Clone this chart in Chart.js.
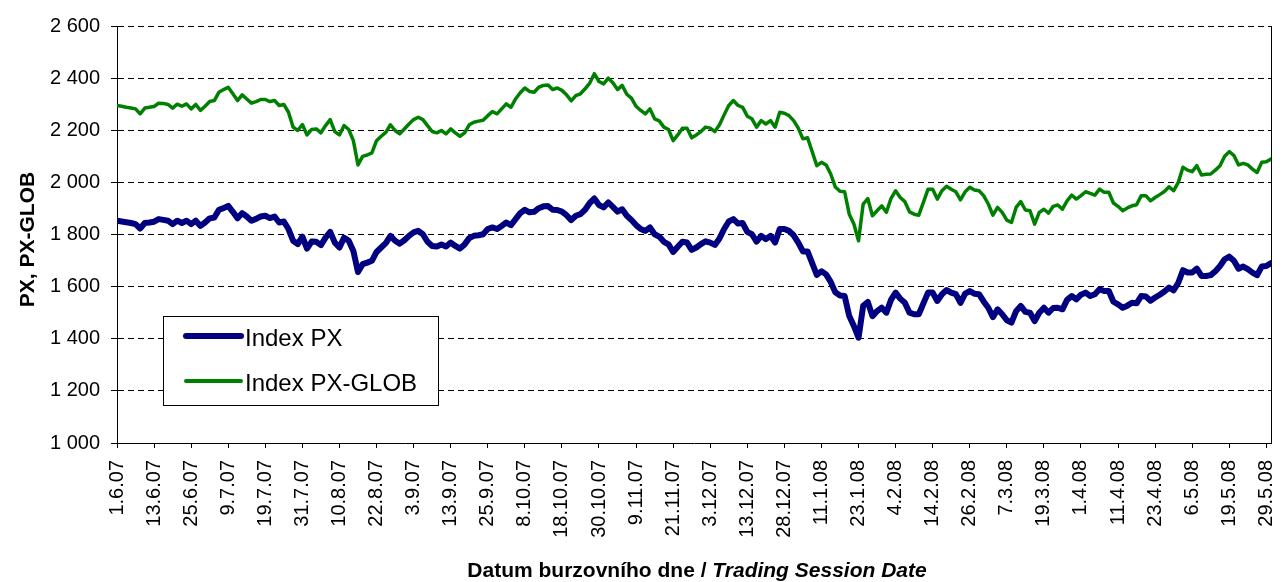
<!DOCTYPE html>
<html>
<head>
<meta charset="utf-8">
<title>Index PX, PX-GLOB</title>
<script src="https://cdn.jsdelivr.net/npm/chart.js@4.4.1/dist/chart.umd.min.js"></script>
<style>
  html, body { margin: 0; padding: 0; background: #fff; }
  #wrap { width: 1284px; height: 582px; }
</style>
</head>
<body>
<div id="wrap"><canvas id="chart" width="1284" height="582"></canvas></div>
<script>
// Tick labels on the date axis (one every 8 trading days)
const tickLabels = ['1.6.07', '13.6.07', '25.6.07', '9.7.07', '19.7.07', '31.7.07', '10.8.07', '22.8.07',
    '3.9.07', '13.9.07', '25.9.07', '8.10.07', '18.10.07', '30.10.07', '9.11.07', '21.11.07',
    '3.12.07', '13.12.07', '28.12.07', '11.1.08', '23.1.08', '4.2.08', '14.2.08', '26.2.08',
    '7.3.08', '19.3.08', '1.4.08', '11.4.08', '23.4.08', '6.5.08', '19.5.08', '29.5.08'];
const TICK_EVERY = 8;

// Series names
const seriesNames = ['Index PX', 'Index PX-GLOB'];

// Index PX, daily close
const pxValues = [
    1853, 1850, 1847, 1844, 1840, 1823, 1844, 1846, 1849, 1859, 1856, 1853, 1840, 1853, 1844, 1853,
    1840, 1853, 1833, 1846, 1862, 1865, 1895, 1901, 1910, 1887, 1862, 1882, 1869, 1853, 1860,
    1869, 1872, 1863, 1869, 1846, 1850, 1821, 1776, 1763, 1792, 1746, 1773, 1772, 1759, 1788, 1810,
    1769, 1750, 1788, 1776, 1737, 1656, 1686, 1692, 1699, 1733, 1750, 1767, 1795, 1776, 1765,
    1778, 1795, 1808, 1814, 1801, 1772, 1756, 1754, 1762, 1754, 1769, 1756, 1746, 1762, 1786, 1795,
    1797, 1801, 1821, 1827, 1821, 1833, 1846, 1836, 1859, 1882, 1895, 1885, 1887, 1901, 1908, 1909,
    1895, 1894, 1888, 1874, 1855, 1872, 1878, 1895, 1921, 1938, 1913, 1904, 1923, 1906, 1888, 1897,
    1872, 1856, 1836, 1821, 1814, 1827, 1801, 1792, 1772, 1762, 1733, 1753, 1772, 1769, 1741,
    1750, 1763, 1774, 1769, 1760, 1785, 1821, 1850, 1859, 1842, 1844, 1810, 1801, 1773, 1795, 1782,
    1795, 1769, 1821, 1821, 1814, 1797, 1769, 1735, 1735, 1690, 1645, 1659, 1647, 1618, 1578, 1566,
    1564, 1487, 1449, 1404, 1526, 1541, 1487, 1506, 1519, 1500, 1549, 1577, 1554, 1538, 1500, 1494,
    1494, 1536, 1577, 1577, 1545, 1571, 1587, 1577, 1571, 1538, 1573, 1583, 1573, 1571, 1543,
    1519, 1483, 1513, 1494, 1471, 1462, 1506, 1526, 1503, 1500, 1468, 1500, 1519, 1500, 1518, 1519,
    1513, 1549, 1564, 1551, 1569, 1577, 1564, 1571, 1590, 1583, 1583, 1542, 1532, 1519, 1527,
    1538, 1536, 1564, 1562, 1546, 1558, 1569, 1581, 1596, 1586, 1615, 1663, 1654, 1654, 1669, 1641,
    1641, 1644, 1659, 1679, 1705, 1715, 1699, 1669, 1677, 1667, 1654, 1644, 1677, 1679, 1690
];

// Index PX-GLOB, daily close
const pxGlobValues = [
    2295, 2292, 2288, 2285, 2282, 2263, 2285, 2288, 2291, 2304, 2303, 2299, 2285, 2300, 2292, 2301,
    2282, 2299, 2276, 2292, 2310, 2314, 2346, 2356, 2365, 2340, 2314, 2336, 2320, 2304, 2310,
    2318, 2318, 2310, 2314, 2295, 2299, 2269, 2212, 2199, 2222, 2182, 2203, 2205, 2190, 2218, 2241,
    2195, 2182, 2218, 2203, 2160, 2067, 2100, 2105, 2113, 2160, 2177, 2192, 2221, 2199, 2186,
    2205, 2224, 2241, 2250, 2241, 2218, 2195, 2190, 2199, 2186, 2205, 2190, 2177, 2190, 2221, 2231,
    2235, 2238, 2256, 2272, 2263, 2282, 2301, 2288, 2320, 2344, 2362, 2349, 2346, 2365, 2372, 2374,
    2356, 2362, 2353, 2336, 2313, 2333, 2340, 2359, 2381, 2417, 2387, 2378, 2400, 2382, 2356, 2372,
    2338, 2323, 2292, 2276, 2263, 2282, 2244, 2236, 2212, 2203, 2160, 2182, 2208, 2208, 2171,
    2182, 2195, 2212, 2208, 2195, 2221, 2259, 2295, 2314, 2295, 2288, 2254, 2244, 2212, 2237, 2224,
    2237, 2212, 2269, 2265, 2256, 2237, 2208, 2167, 2171, 2118, 2064, 2077, 2067, 2032, 1982, 1966,
    1964, 1878, 1840, 1776, 1917, 1938, 1872, 1891, 1910, 1885, 1938, 1968, 1942, 1926, 1887, 1878,
    1874, 1923, 1974, 1974, 1936, 1968, 1985, 1974, 1964, 1933, 1964, 1981, 1971, 1968, 1949,
    1917, 1874, 1904, 1885, 1855, 1846, 1904, 1926, 1894, 1891, 1840, 1885, 1897, 1882, 1908, 1913,
    1897, 1929, 1951, 1936, 1949, 1964, 1958, 1951, 1974, 1962, 1962, 1921, 1908, 1891, 1902,
    1910, 1914, 1949, 1949, 1929, 1942, 1953, 1965, 1983, 1968, 2000, 2058, 2047, 2041, 2064, 2028,
    2031, 2032, 2047, 2064, 2100, 2118, 2103, 2067, 2073, 2067, 2051, 2038, 2077, 2079, 2090
];

// Y axis range
const Y_MIN = 1000;
const Y_MAX = 2600;
const Y_STEP = 200;

const FONT = '"Liberation Sans", Arial, sans-serif';
const PX_COLOR = '#000080';
const GLOB_COLOR = '#008000';

function toPoints(values) {
    return values.map((v, i) => ({ x: i, y: v }));
}

function formatThousands(v) {
    return String(v).replace(/\B(?=(\d{3})+(?!\d))/g, ' ');
}

// Titles, legend box and right frame line
const decorations = {
    id: 'decorations',
    afterDraw(chart) {
        const { ctx, chartArea } = chart;
        ctx.save();

        // right frame line
        ctx.strokeStyle = '#000';
        ctx.lineWidth = 1;
        ctx.beginPath();
        ctx.moveTo(Math.round(chartArea.right) + 0.5, chartArea.top);
        ctx.lineTo(Math.round(chartArea.right) + 0.5, chartArea.bottom);
        ctx.stroke();

        // legend
        const box = { x: 163.5, y: 316.5, w: 275, h: 89 };
        ctx.fillStyle = '#fff';
        ctx.fillRect(box.x, box.y, box.w, box.h);
        ctx.strokeStyle = '#000';
        ctx.strokeRect(box.x, box.y, box.w, box.h);
        const rows = [
            { y: 336, width: 6 },
            { y: 381, width: 4 }
        ];
        chart.data.datasets.forEach((ds, k) => {
            const row = rows[k];
            ctx.strokeStyle = ds.borderColor;
            ctx.lineWidth = row.width;
            ctx.lineCap = 'round';
            ctx.beginPath();
            ctx.moveTo(186, row.y);
            ctx.lineTo(241, row.y);
            ctx.stroke();
            ctx.fillStyle = '#000';
            ctx.font = '24px ' + FONT;
            ctx.textAlign = 'left';
            ctx.textBaseline = 'middle';
            ctx.fillText(ds.label, 245, row.y + 3);
        });

        // x axis title: bold, second half bold italic
        const part1 = 'Datum burzovního dne / ';
        const part2 = 'Trading Session Date';
        ctx.fillStyle = '#000';
        ctx.textBaseline = 'alphabetic';
        ctx.textAlign = 'left';
        ctx.font = 'bold 21px ' + FONT;
        const w1 = ctx.measureText(part1).width;
        ctx.font = 'italic bold 21px ' + FONT;
        const w2 = ctx.measureText(part2).width;
        const cx = (chartArea.left + chartArea.right) / 2 + 3;
        let x = cx - (w1 + w2) / 2;
        ctx.font = 'bold 21px ' + FONT;
        ctx.fillText(part1, x, 577);
        ctx.font = 'italic bold 21px ' + FONT;
        ctx.fillText(part2, x + w1, 577);

        // y axis title
        ctx.translate(28, (chartArea.top + chartArea.bottom) / 2 + 5);
        ctx.rotate(-Math.PI / 2);
        ctx.font = 'bold 21px ' + FONT;
        ctx.textAlign = 'center';
        ctx.textBaseline = 'middle';
        ctx.fillText('PX, PX-GLOB', 0, 0);

        ctx.restore();
    }
};

Chart.defaults.color = '#000';
Chart.defaults.font.family = FONT;

new Chart(document.getElementById('chart'), {
    type: 'line',
    data: {
        datasets: [
            {
                label: seriesNames[0],
                data: toPoints(pxValues),
                borderColor: PX_COLOR,
                backgroundColor: PX_COLOR,
                borderWidth: 6,
                pointRadius: 0,
                tension: 0,
                borderJoinStyle: 'round',
                borderCapStyle: 'round'
            },
            {
                label: seriesNames[1],
                data: toPoints(pxGlobValues),
                borderColor: GLOB_COLOR,
                backgroundColor: GLOB_COLOR,
                borderWidth: 3.5,
                pointRadius: 0,
                tension: 0,
                borderJoinStyle: 'round',
                borderCapStyle: 'round'
            }
        ]
    },
    options: {
        responsive: false,
        animation: false,
        devicePixelRatio: 1,
        layout: { padding: { top: 26, right: 13, left: 0, bottom: 0 } },
        plugins: {
            legend: { display: false },
            tooltip: { enabled: false }
        },
        scales: {
            x: {
                type: 'linear',
                position: 'bottom',
                min: 0,
                max: pxValues.length - 1,
                afterBuildTicks: (scale) => {
                    scale.ticks = tickLabels.map((_, k) => ({ value: k * TICK_EVERY }));
                },
                afterFit: (scale) => {
                    scale.height = 139;
                    scale.paddingLeft = 0;
                    scale.paddingRight = 0;
                },
                grid: {
                    drawOnChartArea: false,
                    drawTicks: true,
                    tickLength: 5,
                    color: '#000'
                },
                border: { display: true, color: '#000', width: 1 },
                ticks: {
                    autoSkip: false,
                    maxRotation: 90,
                    minRotation: 90,
                    padding: 12,
                    font: { size: 20 },
                    callback: (v) => tickLabels[v / TICK_EVERY] ?? ''
                }
            },
            y: {
                min: Y_MIN,
                max: Y_MAX,
                afterFit: (scale) => { scale.width = 117; },
                grid: {
                    color: '#000',
                    lineWidth: 1,
                    tickLength: 6
                },
                border: { display: true, color: '#000', width: 1, dash: [6, 4] },
                ticks: {
                    stepSize: Y_STEP,
                    padding: 11,
                    font: { size: 20 },
                    callback: (v) => formatThousands(v)
                }
            }
        }
    },
    plugins: [decorations]
});
</script>
</body>
</html>
